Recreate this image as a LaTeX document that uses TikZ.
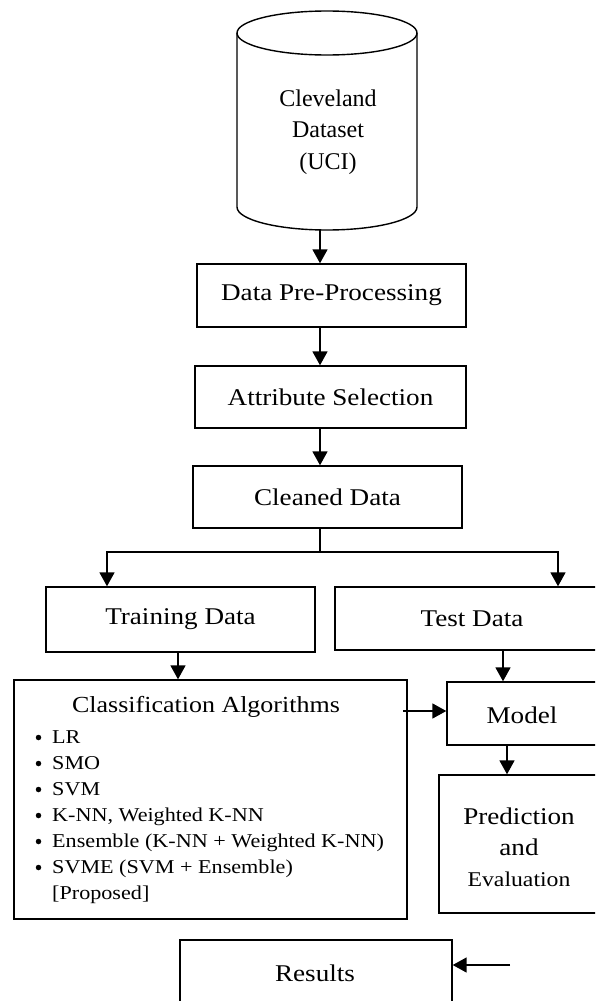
\documentclass[tikz,border=0pt]{standalone}
\usepackage{fontspec}
\setmainfont[FakeStretch=1.13]{Liberation Serif}
\newfontfamily\plainfont{Liberation Serif}
\usetikzlibrary{arrows.meta}
\begin{document}
\begin{tikzpicture}[x=1pt,y=-1pt,
  box/.style={draw, line width=1.4pt, inner sep=0pt},
  big/.style={font=\fontsize{24}{31}\selectfont},
  txt/.style={inner sep=0pt, align=center, big},
  arr/.style={-{Triangle[length=14pt,width=15pt]}, line width=1.7pt},
  link/.style={line width=1.4pt},
  dot/.style={circle, fill=black, inner sep=0pt, minimum size=5.5pt},
  bul/.style={inner sep=0pt, anchor=base west, font=\fontsize{19.6}{26}\selectfont}]
\useasboundingbox (0,0) rectangle (595,1001);
\clip (0,0) rectangle (595,1001);
\fill[white] (0,0) rectangle (595,1001);

% database cylinder
\draw[line width=1.4pt] (237,33) -- (237,207) arc[start angle=180, end angle=0, x radius=90, y radius=23] -- (417,33);
\draw[line width=1.4pt] (327,33) ellipse [x radius=90, y radius=22];
\node[inner sep=0pt, align=center, font=\plainfont\fontsize{24}{31.5}\selectfont] (db) at (328,132) {Cleveland\\Dataset\\(UCI)};
\coordinate (cylbot) at (320,230);

% boxes
\node[box, txt, minimum width=269, minimum height=63] (dpp) at (331.5,295.5) {Data Pre-Processing};
\node[box, txt, minimum width=271, minimum height=62] (attr) at (330.5,397) {Attribute Selection};
\node[box, txt, minimum width=269, minimum height=62] (clean) at (327.5,497) {Cleaned Data};
\node[box, txt, minimum width=269, minimum height=65] (train) at (180.5,619.5) {Training Data};
\node[box, minimum width=315, minimum height=63] (test) at (492.5,618.5) {};
\node[txt] (testt) at (472,619) {Test Data};
\node[box, minimum width=393, minimum height=239] (class) at (210.5,799.5) {};
\node[box, minimum width=203, minimum height=63] (model) at (548.5,713.5) {};
\node[txt] (modelt) at (522,715) {Model};
\node[box, minimum width=211, minimum height=138] (pred) at (544.5,844) {};
\node[txt] (predt) at (519,847) {Prediction\\and\\{\fontsize{21}{31}\selectfont Evaluation}};
\node[box, minimum width=272, minimum height=140] (res) at (316,1010) {};
\node[txt] (rest) at (315,973) {Results};

% classification contents
\node[inner sep=0pt, font=\fontsize{23}{28}\selectfont] (ctitle) at (206,707) {Classification Algorithms};
\foreach \i/\t in {1/LR, 2/SMO, 3/SVM, 4/{K-NN, Weighted K-NN}, 5/{Ensemble (K-NN + Weighted K-NN)}, 6/{SVME (SVM + Ensemble)}} {
  \node[dot] (bd\i) at (38.5,{737.5+26*(\i-1)}) {};
  \node[bul] (bt\i) at (52,{743.5+26*(\i-1)}) {\t};
}
\node[bul] (bt7) at (52,899.5) {[Proposed]};

% connectors
\draw[arr] (cylbot) -- (cylbot |- dpp.north);
\draw[arr] (dpp.south -| cylbot) -- (attr.north -| cylbot);
\draw[arr] (attr.south -| cylbot) -- (clean.north -| cylbot);
\coordinate (split) at (320,552);
\coordinate (brL) at (107,552);
\coordinate (brR) at (558,552);
\draw[link] (clean.south -| split) -- (split);
\draw[arr] (split) -- (brL) -- (brL |- train.north);
\draw[arr] (split) -- (brR) -- (brR |- test.north);
\coordinate (tx) at (178,0);
\draw[arr] (train.south -| tx) -- (class.north -| tx);
\coordinate (ty) at (503,0);
\draw[arr] (test.south -| ty) -- (model.north -| ty);
\coordinate (cm) at (403,711);
\draw[arr] (cm) -- (cm -| model.west);
\coordinate (my) at (507,0);
\draw[arr] (model.south -| my) -- (pred.north -| my);
\coordinate (resin) at (510,965);
\draw[arr] (resin) -- (resin -| res.east);
\end{tikzpicture}
\end{document}
